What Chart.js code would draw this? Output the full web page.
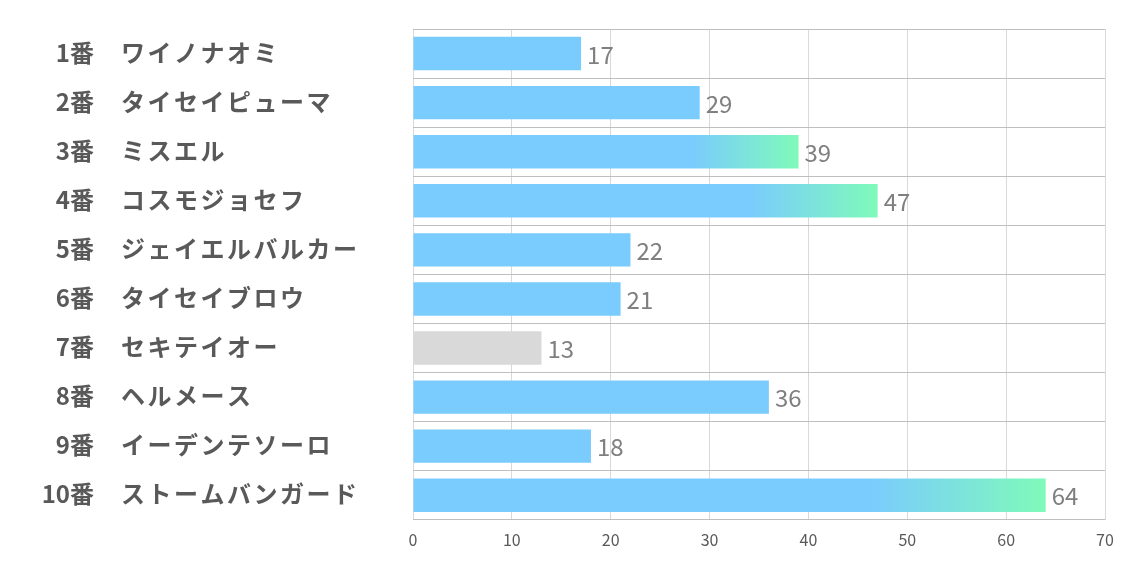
<!DOCTYPE html>
<html>
<head>
<meta charset="utf-8">
<script src="https://cdn.jsdelivr.net/npm/chart.js@4"></script>
<style>
  html, body { margin: 0; padding: 0; background: #fff; }
  #wrap { width: 1134px; height: 567px; }
</style>
</head>
<body>
<div id="wrap"><canvas id="raceChart"></canvas></div>
<script>
// data
const numbers = ['1番', '2番', '3番', '4番', '5番', '6番', '7番', '8番', '9番', '10番'];
const horses = ['ワイノナオミ', 'タイセイピューマ', 'ミスエル', 'コスモジョセフ', 'ジェイエルバルカー',
                'タイセイブロウ', 'セキテイオー', 'ヘルメース', 'イーデンテソーロ', 'ストームバンガード'];
const scores = [17, 29, 39, 47, 22, 21, 13, 36, 18, 64];
const xTicks = [0, 10, 20, 30, 40, 50, 60, 70];

const labels = numbers.map((n, i) => n + '　' + horses[i]);
const top3 = scores.slice().sort((a, b) => b - a).slice(0, 3);

const BLUE = 'rgb(122,203,254)';
const GREEN = 'rgb(127,250,186)';
const GREY = 'rgb(217,217,217)';
const FONT = "'Noto Sans CJK JP', 'Noto Sans', sans-serif";

function barColor(ctx) {
  const v = ctx.raw;
  if (v === undefined) return BLUE;
  if (ctx.dataIndex === 6) return GREY;
  if (!top3.includes(v)) return BLUE;
  const x = ctx.chart.scales.x;
  if (!x) return BLUE;
  const x0 = x.getPixelForValue(v * 0.72);
  const x1 = x.getPixelForValue(v);
  const g = ctx.chart.ctx.createLinearGradient(x0, 0, x1, 0);
  g.addColorStop(0, BLUE);
  g.addColorStop(1, GREEN);
  return g;
}

// horse labels on the left: number right aligned, name left aligned
const sideLabels = {
  id: 'sideLabels',
  afterDraw(chart) {
    const c = chart.ctx;
    const y = chart.scales.y;
    c.save();
    c.fillStyle = '#595959';
    c.font = 'bold 24px ' + FONT;
    c.textBaseline = 'middle';
    numbers.forEach((n, i) => {
      const py = y.getPixelForValue(i) - 1;
      c.letterSpacing = '0px';
      c.textAlign = 'right';
      c.fillText(n, 94, py);
      c.letterSpacing = '2.5px';
      c.textAlign = 'left';
      c.fillText(horses[i], 121, py);
    });
    c.restore();
  }
};

// value labels at the bar ends
const valueLabels = {
  id: 'valueLabels',
  afterDatasetsDraw(chart) {
    const c = chart.ctx;
    const meta = chart.getDatasetMeta(0);
    c.save();
    c.fillStyle = '#7f7f7f';
    c.font = '24px ' + FONT;
    c.textBaseline = 'middle';
    c.textAlign = 'left';
    meta.data.forEach((bar, i) => {
      c.fillText(String(scores[i]), bar.x + 6, bar.y + 1);
    });
    c.restore();
  }
};

new Chart(document.getElementById('raceChart'), {
  type: 'bar',
  data: {
    labels: labels,
    datasets: [{
      data: scores,
      backgroundColor: barColor,
      borderWidth: 0,
      barPercentage: 0.68,
      categoryPercentage: 1
    }]
  },
  options: {
    indexAxis: 'y',
    responsive: true,
    maintainAspectRatio: false,
    animation: false,
    layout: { padding: { left: 413, right: 29, top: 29, bottom: 6 } },
    plugins: { legend: { display: false }, tooltip: { enabled: false } },
    scales: {
      x: {
        min: 0,
        max: 70,
        afterBuildTicks(axis) { axis.ticks = xTicks.map(v => ({ value: v })); },
        grid: { color: '#d9d9d9', drawTicks: false },
        border: { display: false },
        ticks: { color: '#595959', font: { family: FONT, size: 16 }, padding: 11 }
      },
      y: {
        grid: { color: '#bfbfbf', offset: true, drawTicks: false },
        border: { display: false },
        ticks: { display: false }
      }
    }
  },
  plugins: [sideLabels, valueLabels]
});
</script>
</body>
</html>
